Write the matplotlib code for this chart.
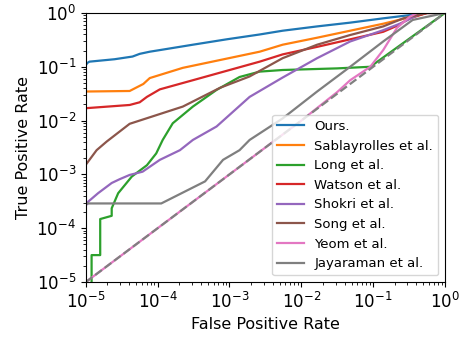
import numpy as np
import matplotlib
matplotlib.use("Agg")
import matplotlib.pyplot as plt

# values as log10(FPR), log10(TPR)
ours_x = [-5.0, -4.98, -4.95, -4.6, -4.35, -4.25, -4.11, -3.97, -3.51, -3.04, -2.58, -2.26, -1.78, -1.32, -0.86, -0.49, -0.35, 0.0]
ours_y = [-0.97, -0.93, -0.905, -0.86, -0.81, -0.76, -0.72, -0.69, -0.59, -0.49, -0.40, -0.33, -0.25, -0.18, -0.10, -0.04, 0.0, 0.0]

sab_x = [-5.0, -4.39, -4.2, -4.11, -3.65, -2.58, -2.26, -1.78, -1.32, -0.86, -0.49, -0.25, 0.0]
sab_y = [-1.46, -1.45, -1.32, -1.21, -1.02, -0.72, -0.59, -0.46, -0.33, -0.20, -0.08, 0.0, 0.0]

long_x = [-4.92, -4.92, -4.80, -4.80, -4.64, -4.64, -4.55, -4.36, -4.15, -4.02, -3.93, -3.79, -3.51, -3.18, -2.86, -2.58, -2.26, -1.5, -1.04, 0.0]
long_y = [-5.0, -4.50, -4.50, -3.83, -3.77, -3.63, -3.35, -3.04, -2.83, -2.61, -2.36, -2.05, -1.74, -1.43, -1.19, -1.09, -1.06, -1.03, -1.0, 0.0]

wat_x = [-5.0, -4.39, -4.25, -4.15, -3.97, -3.51, -2.58, -2.26, -1.78, -1.32, -0.86, -0.67, -0.49, -0.25, 0.0]
wat_y = [-1.77, -1.71, -1.66, -1.56, -1.42, -1.25, -0.905, -0.77, -0.63, -0.49, -0.35, -0.24, -0.10, 0.0, 0.0]

sho_x = [-4.98, -4.97, -4.83, -4.64, -4.53, -4.39, -4.21, -3.97, -3.69, -3.51, -3.18, -2.72, -2.26, -1.78, -1.32, -0.86, -0.61, -0.32, 0.0]
sho_y = [-3.55, -3.51, -3.35, -3.16, -3.09, -3.01, -2.95, -2.73, -2.55, -2.36, -2.11, -1.56, -1.20, -0.84, -0.53, -0.32, -0.19, 0.0, 0.0]

song_x = [-5.0, -4.85, -4.71, -4.39, -3.65, -3.13, -2.72, -2.26, -1.78, -1.32, -0.86, -0.58, -0.25, 0.0]
song_y = [-2.82, -2.55, -2.39, -2.06, -1.74, -1.39, -1.18, -0.84, -0.59, -0.41, -0.25, -0.10, 0.0, 0.0]

yeom_x = [-5.0, -2.0, -1.5, -1.32, -1.04, -0.86, -0.67, -0.49, -0.39, 0.0]
yeom_y = [-5.0, -2.0, -1.47, -1.25, -1.0, -0.69, -0.28, -0.07, 0.0, 0.0]

jay_x = [-5.0, -3.95, -3.34, -3.09, -2.86, -2.72, -2.26, -1.78, -1.32, -0.86, -0.45, 0.0]
jay_y = [-3.54, -3.54, -3.13, -2.73, -2.55, -2.36, -1.96, -1.46, -1.0, -0.53, -0.13, 0.0]

labels = ["Ours.", "Sablayrolles et al.", "Long et al.", "Watson et al.",
          "Shokri et al.", "Song et al.", "Yeom et al.", "Jayaraman et al."]
series = [(ours_x, ours_y), (sab_x, sab_y), (long_x, long_y), (wat_x, wat_y),
          (sho_x, sho_y), (song_x, song_y), (yeom_x, yeom_y), (jay_x, jay_y)]
colors = ["#1f77b4", "#ff7f0e", "#2ca02c", "#d62728", "#9467bd", "#8c564b", "#e377c2", "#7f7f7f"]

fig = plt.figure(figsize=(4.64, 3.41), dpi=100)
ax = fig.add_axes([0.185, 0.173, 0.774, 0.789])

for (lx, ly), lab, c in zip(series, labels, colors):
    ax.plot(np.power(10.0, lx), np.power(10.0, ly), color=c, lw=1.6, label=lab)

diag = [1e-5, 1.0]
ax.plot(diag, diag, color="gray", ls="--", lw=1.6)

ax.set_xscale("log")
ax.set_yscale("log")
ax.set_xlim(1e-5, 1)
ax.set_ylim(1e-5, 1)
ax.tick_params(axis="both", which="major", labelsize=12)
ax.set_xlabel("False Positive Rate", fontsize=11.5)
ax.set_ylabel("True Positive Rate", fontsize=11.5)
ax.legend(loc="lower right", fontsize=9.5)

fig.savefig("out.png", dpi=100)
